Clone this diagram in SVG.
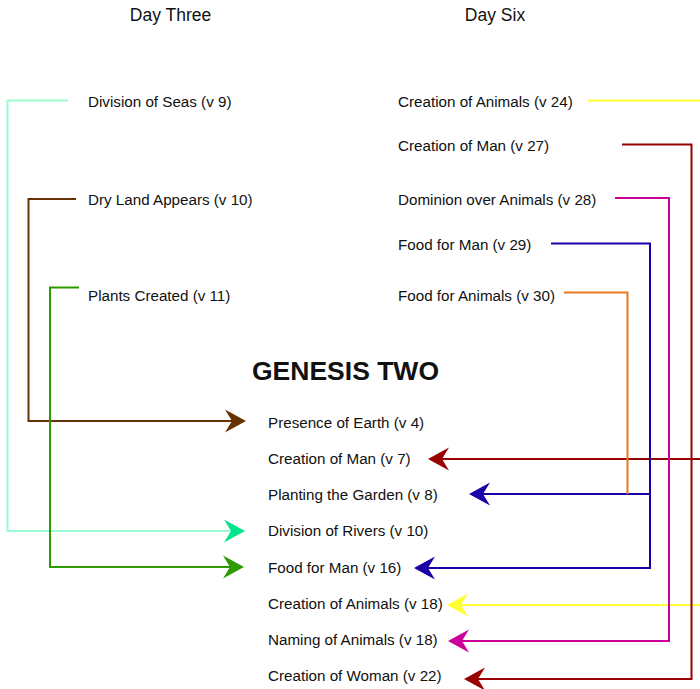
<svg xmlns="http://www.w3.org/2000/svg" xmlns:xlink="http://www.w3.org/1999/xlink" width="700" height="689" viewBox="0 0 700 689">
<style>
text{font-family:"Liberation Sans",Arial,Helvetica,sans-serif;fill:#111}
.h{font-size:17.5px;text-anchor:middle}
.t{font-size:15.2px}
.title{font-size:26.5px;font-weight:bold;text-anchor:middle}
.c{fill:none;stroke-width:2}
</style>
<defs>
<path id="ar" d="M0,0 L-21,-11.5 L-14,0 L-21,11.5 Z"/>
</defs>
<rect width="700" height="689" fill="#fff"/>
<g id="headers">
<text class="h" x="170.5" y="21">Day Three</text>
<text class="h" x="495" y="21">Day Six</text>
</g>
<g id="title"><text class="title" x="345.5" y="379.5">GENESIS TWO</text></g>
<g id="day3-seas"><text class="t" x="88" y="106.5">Division of Seas (v 9)</text></g>
<g id="day3-land"><text class="t" x="88" y="204.5">Dry Land Appears (v 10)</text></g>
<g id="day3-plants"><text class="t" x="88" y="301">Plants Created (v 11)</text></g>
<g id="day6-animals"><text class="t" x="398" y="106.5">Creation of Animals (v 24)</text></g>
<g id="day6-man"><text class="t" x="398" y="151">Creation of Man (v 27)</text></g>
<g id="day6-dominion"><text class="t" x="398" y="204.5">Dominion over Animals (v 28)</text></g>
<g id="day6-foodman"><text class="t" x="398" y="250">Food for Man (v 29)</text></g>
<g id="day6-foodanimals"><text class="t" x="398" y="301">Food for Animals (v 30)</text></g>
<g id="g2-earth"><text class="t" x="268" y="427.5">Presence of Earth (v 4)</text></g>
<g id="g2-man"><text class="t" x="268" y="464">Creation of Man (v 7)</text></g>
<g id="g2-garden"><text class="t" x="268" y="500">Planting the Garden (v 8)</text></g>
<g id="g2-rivers"><text class="t" x="268" y="536">Division of Rivers (v 10)</text></g>
<g id="g2-food"><text class="t" x="268" y="572.5">Food for Man (v 16)</text></g>
<g id="g2-animals"><text class="t" x="268" y="609">Creation of Animals (v 18)</text></g>
<g id="g2-naming"><text class="t" x="268" y="645">Naming of Animals (v 18)</text></g>
<g id="g2-woman"><text class="t" x="268" y="681">Creation of Woman (v 22)</text></g>
<g id="connectors">
<path class="c" stroke="#99FBD0" d="M68,100.5 H7.5 V531 H231"/>
<use xlink:href="#ar" fill="#00E68A" transform="translate(245,531)"/>
<path class="c" stroke="#663300" d="M76,199 H28.5 V421 H232"/>
<use xlink:href="#ar" fill="#663300" transform="translate(246,421)"/>
<path class="c" stroke="#2D9A00" d="M79,287.5 H50 V567 H230"/>
<use xlink:href="#ar" fill="#2D9A00" transform="translate(244,567)"/>
<path class="c" stroke="#FFFF33" d="M588,100.5 H712 V605 H461"/>
<use xlink:href="#ar" fill="#FFFF33" transform="translate(447,605) rotate(180)"/>
<path class="c" stroke="#990000" d="M622,144.5 H691.5 V679 H478"/>
<use xlink:href="#ar" fill="#990000" transform="translate(464,679) rotate(180)"/>
<path class="c" stroke="#990000" d="M702,459 H442"/>
<use xlink:href="#ar" fill="#990000" transform="translate(428,459) rotate(180)"/>
<path class="c" stroke="#CC0099" d="M615,198 H669 V641 H462"/>
<use xlink:href="#ar" fill="#CC0099" transform="translate(448,641) rotate(180)"/>
<path class="c" stroke="#1A00A8" d="M551,243.5 H650 V568 H428"/>
<use xlink:href="#ar" fill="#1A00A8" transform="translate(414,568) rotate(180)"/>
<path class="c" stroke="#1A00A8" d="M650,494 H483"/>
<use xlink:href="#ar" fill="#1A00A8" transform="translate(469,494) rotate(180)"/>
<path class="c" stroke="#E87722" d="M564,292.5 H627.5 V494"/>
</g>
</svg>
